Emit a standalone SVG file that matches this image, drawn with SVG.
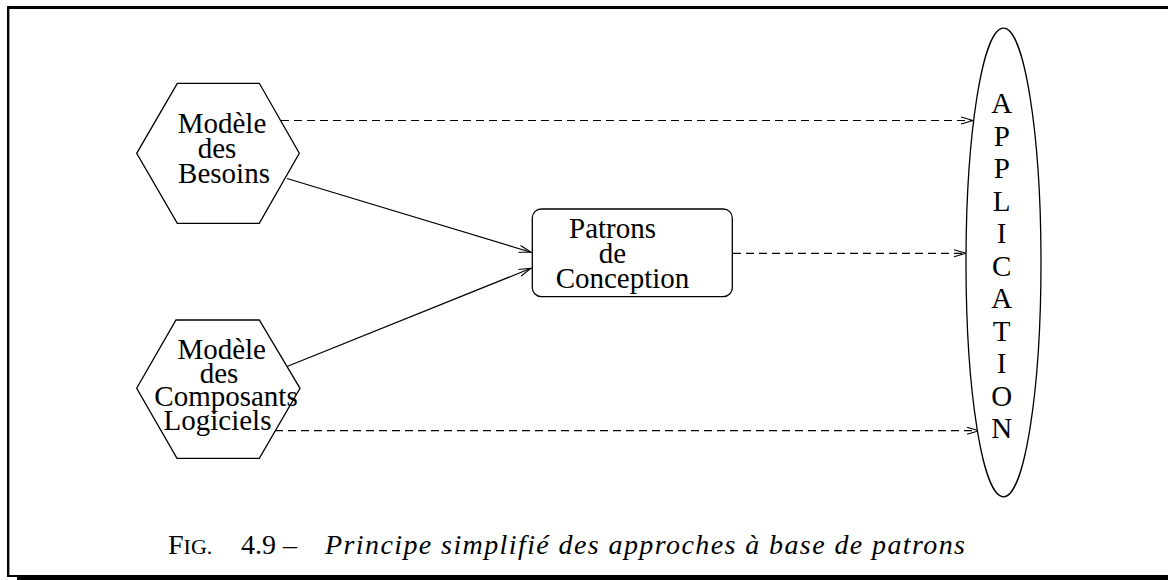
<svg xmlns="http://www.w3.org/2000/svg" width="1168" height="580" viewBox="0 0 1168 580">
  <style>
    .shape { fill: #ffffff; stroke: #000000; stroke-width: 1.3; }
    .lbl { font-size: 29px; fill: #000000; text-anchor: middle; }
    .link { fill: none; stroke: #000000; stroke-width: 1.2; }
    .dash { stroke-dasharray: 8 5; }
    .cap { font-size: 28px; fill: #000000; }
  </style>
  <defs>
    <marker id="open" viewBox="0 0 14 10" refX="13" refY="5" markerWidth="14" markerHeight="10" markerUnits="userSpaceOnUse" orient="auto">
      <path d="M1,1.5 L13,5 L1,8.5" fill="none" stroke="#000000" stroke-width="1.1"/>
    </marker>
  </defs>

  <rect width="1168" height="580" fill="#ffffff"/>

  <!-- page frame -->
  <g id="frame" fill="#000000">
    <rect x="7" y="6" width="1161" height="3"/>
    <rect x="7" y="6" width="2.4" height="571"/>
    <rect x="7" y="575" width="12" height="2"/>
    <rect x="17" y="575" width="1151" height="5"/>
  </g>

  <!-- connectors -->
  <g id="connectors">
    <line class="link dash" x1="281" y1="120.5" x2="973" y2="120.5" marker-end="url(#open)"/>
    <line class="link" x1="287" y1="178.5" x2="531" y2="252.3" marker-end="url(#open)"/>
    <line class="link" x1="287" y1="366.5" x2="531" y2="268.3" marker-end="url(#open)"/>
    <line class="link dash" x1="733" y1="253.3" x2="966" y2="253.3" marker-end="url(#open)"/>
    <line class="link dash" x1="275" y1="430.7" x2="979" y2="430.7" marker-end="url(#open)"/>
  </g>

  <g font-family="'Liberation Serif', 'DejaVu Serif', 'Times New Roman', serif">
    <g id="besoins">
      <polygon class="shape" points="177.3,83.3 259.3,83.3 299.3,153.3 259.3,223.3 177.3,223.3 136.7,153.3"/>
      <text class="lbl" x="222" y="133">Modèle</text>
      <text class="lbl" x="217" y="158">des</text>
      <text class="lbl" x="224" y="183">Besoins</text>
    </g>

    <g id="composants">
      <polygon class="shape" points="176,320 259.3,320 300,388.3 259.3,458.3 177,458.3 136.7,388.3"/>
      <text class="lbl" x="221.7" y="359">Modèle</text>
      <text class="lbl" x="219" y="382.5">des</text>
      <text class="lbl" x="226" y="406">Composants</text>
      <text class="lbl" x="217.5" y="430">Logiciels</text>
    </g>

    <g id="patrons">
      <rect class="shape" x="532.3" y="209" width="200" height="87.7" rx="9" ry="9"/>
      <text class="lbl" x="612.5" y="238.3">Patrons</text>
      <text class="lbl" x="612.5" y="263.3">de</text>
      <text class="lbl" x="622.5" y="288.3">Conception</text>
    </g>

    <g id="application">
      <ellipse class="shape" cx="1003.5" cy="262.5" rx="37.5" ry="234.3"/>
      <text class="lbl" x="1001.7" y="113">A</text>
      <text class="lbl" x="1001.7" y="145.5">P</text>
      <text class="lbl" x="1001.7" y="178">P</text>
      <text class="lbl" x="1001.7" y="210.5">L</text>
      <text class="lbl" x="1001.7" y="243">I</text>
      <text class="lbl" x="1001.7" y="275.5">C</text>
      <text class="lbl" x="1001.7" y="308">A</text>
      <text class="lbl" x="1001.7" y="340.5">T</text>
      <text class="lbl" x="1001.7" y="373">I</text>
      <text class="lbl" x="1001.7" y="405.5">O</text>
      <text class="lbl" x="1001.7" y="438">N</text>
    </g>

    <!-- figure caption -->
    <g id="caption">
      <text class="cap" x="168" y="554">F<tspan font-size="22">IG.</tspan></text>
      <text class="cap" x="241" y="554">4.9 –</text>
      <text class="cap" x="325" y="554" font-style="italic" textLength="640" lengthAdjust="spacing">Principe simplifié des approches à base de patrons</text>
    </g>
  </g>
</svg>
